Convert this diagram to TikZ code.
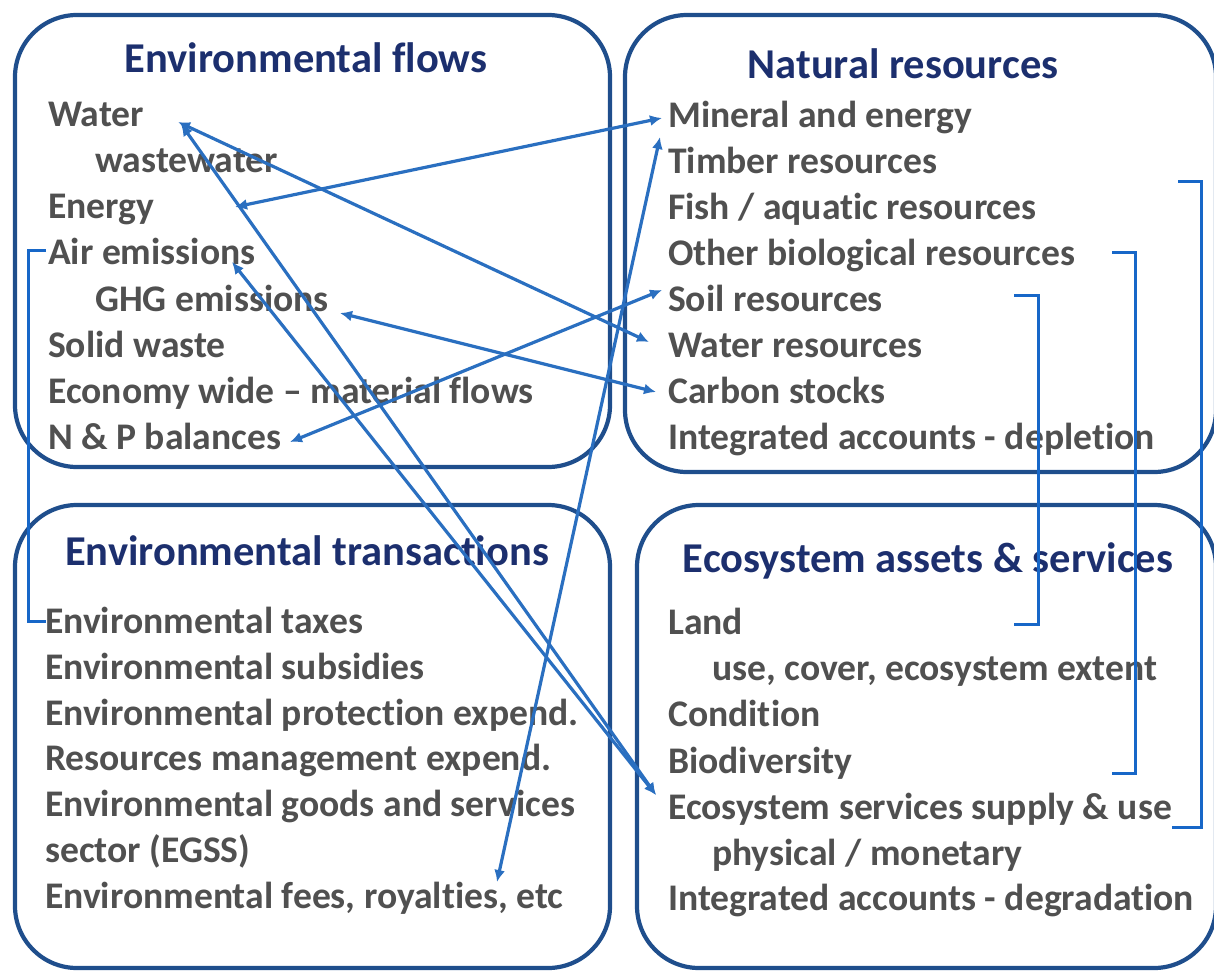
\documentclass[tikz,border=0pt]{standalone}
\usepackage{fontspec}
\setmainfont{Carlito}[Ligatures={NoCommon,NoContextual}]
\usetikzlibrary{arrows.meta}
\definecolor{boxblue}{HTML}{1F4E8C}
\definecolor{linkblue}{HTML}{2A6FC0}
\definecolor{brblue}{HTML}{1767C8}
\definecolor{navy}{HTML}{1C2F6E}
\definecolor{bodygray}{HTML}{505050}
\tikzset{
  panel/.style={draw=boxblue, line width=4.2pt, rounded corners=62pt, inner sep=0pt},
  ttl/.style={font=\fontsize{42.5}{46}\selectfont\bfseries, text=navy, inner sep=0pt, anchor=base},
  body/.style={font=\fontsize{37.6}{41}\selectfont\bfseries, text=bodygray, inner sep=0pt, anchor=base west},
  link/.style={draw=linkblue, line width=3.2pt, {Latex[length=12pt,width=11pt]}-{Latex[length=12pt,width=11pt]}},
  brk/.style={draw=brblue, line width=3pt}
}
\begin{document}
\begin{tikzpicture}[x=1pt,y=-1pt]
\useasboundingbox (0,0) rectangle (1214,972);
% panels
\node[panel, minimum width=595pt, minimum height=452pt] (ef) at (312.5,241) {};
\node[panel, minimum width=591pt, minimum height=457pt] (nr) at (920.5,243.5) {};
\node[panel, minimum width=595pt, minimum height=463pt] (et) at (312.5,736.5) {};
\node[panel, minimum width=579pt, minimum height=463pt] (ea) at (926.5,736.5) {};
% titles
\node[ttl] (eft) at (306,72) {Environmental flows};
\node[ttl] (nrt) at (903,78) {Natural resources};
\node[ttl] (ett) at (307,565) {Environmental transactions};
\node[ttl] (eat) at (928,572) {Ecosystem assets \& services};
% environmental flows
\node[body] (water) at (48,126) {Water};
\node[body] (wastew) at (95,172) {wastewater};
\node[body] (energy) at (48,218) {Energy};
\node[body] (air) at (48,264) {Air emissions};
\node[body] (ghg) at (95,311) {GHG emissions};
\node[body] (solid) at (48,357) {Solid waste};
\node[body] (econ) at (48,403) {Economy wide -- material flows};
\node[body] (np) at (48,449) {N \& P balances};
% natural resources
\node[body] (mineral) at (668,127) {Mineral and energy};
\node[body] (timber) at (668,173) {Timber resources};
\node[body] (fish) at (668,219) {Fish / aquatic resources};
\node[body] (otherbio) at (668,265) {Other biological resources};
\node[body] (soil) at (668,311) {Soil resources};
\node[body] (waterres) at (668,357) {Water resources};
\node[body] (carbon) at (668,403) {Carbon stocks};
\node[body] (intdep) at (668,449) {Integrated accounts - depletion};
% environmental transactions
\node[body] (taxes) at (45,633) {Environmental taxes};
\node[body] (subs) at (45,679) {Environmental subsidies};
\node[body] (prot) at (45,725) {Environmental protection expend.};
\node[body] (resman) at (45,770) {Resources management expend.};
\node[body] (goods) at (45,816) {Environmental goods and services};
\node[body] (sector) at (45,862) {sector (EGSS)};
\node[body] (fees) at (45,908) {Environmental fees, royalties, etc};
% ecosystem assets
\node[body] (land) at (668,634) {Land};
\node[body] (use) at (712,680) {use, cover, ecosystem extent};
\node[body] (cond) at (668,726) {Condition};
\node[body] (bio) at (668,773) {Biodiversity};
\node[body] (ess) at (668,819) {Ecosystem services supply \& use};
\node[body] (phys) at (712,865) {physical / monetary};
\node[body] (intdeg) at (668,910) {Integrated accounts - degradation};
% link end points
\coordinate (pWaterA) at (178,122);
\coordinate (pWaterB) at (181,124);
\coordinate (pEnergy) at (235,207);
\coordinate (pAir) at (232,262);
\coordinate (pGhg) at (340,313);
\coordinate (pNp) at (290,442);
\coordinate (pFees) at (497,882);
\coordinate (pMineral) at (662,118);
\coordinate (pTimber) at (660,137);
\coordinate (pSoil) at (662,290);
\coordinate (pWaterRes) at (649,342);
\coordinate (pCarbon) at (656,392);
\coordinate (pEss) at (656,795);
% links
\draw[link] (pWaterA) -- (pWaterRes);
\draw[link] (pWaterB) -- (pEss);
\draw[link] (pEnergy) -- (pMineral);
\draw[link] (pAir) -- (pEss);
\draw[link] (pGhg) -- (pCarbon);
\draw[link] (pNp) -- (pSoil);
\draw[link] (pTimber) -- (pFees);
% brackets
\coordinate (bAirT) at (46,250);
\coordinate (bTaxB) at (46,621);
\draw[brk] (bAirT) -| (28,621) -- (bTaxB);
\coordinate (b1T) at (1178,181);
\coordinate (b1B) at (1172,827);
\draw[brk] (b1T) -| (1201,827) -- (b1B);
\coordinate (b2T) at (1112,252);
\coordinate (b2B) at (1112,773);
\draw[brk] (b2T) -| (1135,773) -- (b2B);
\coordinate (b3T) at (1014,295);
\coordinate (b3B) at (1014,624);
\draw[brk] (b3T) -| (1038,624) -- (b3B);
\end{tikzpicture}
\end{document}
